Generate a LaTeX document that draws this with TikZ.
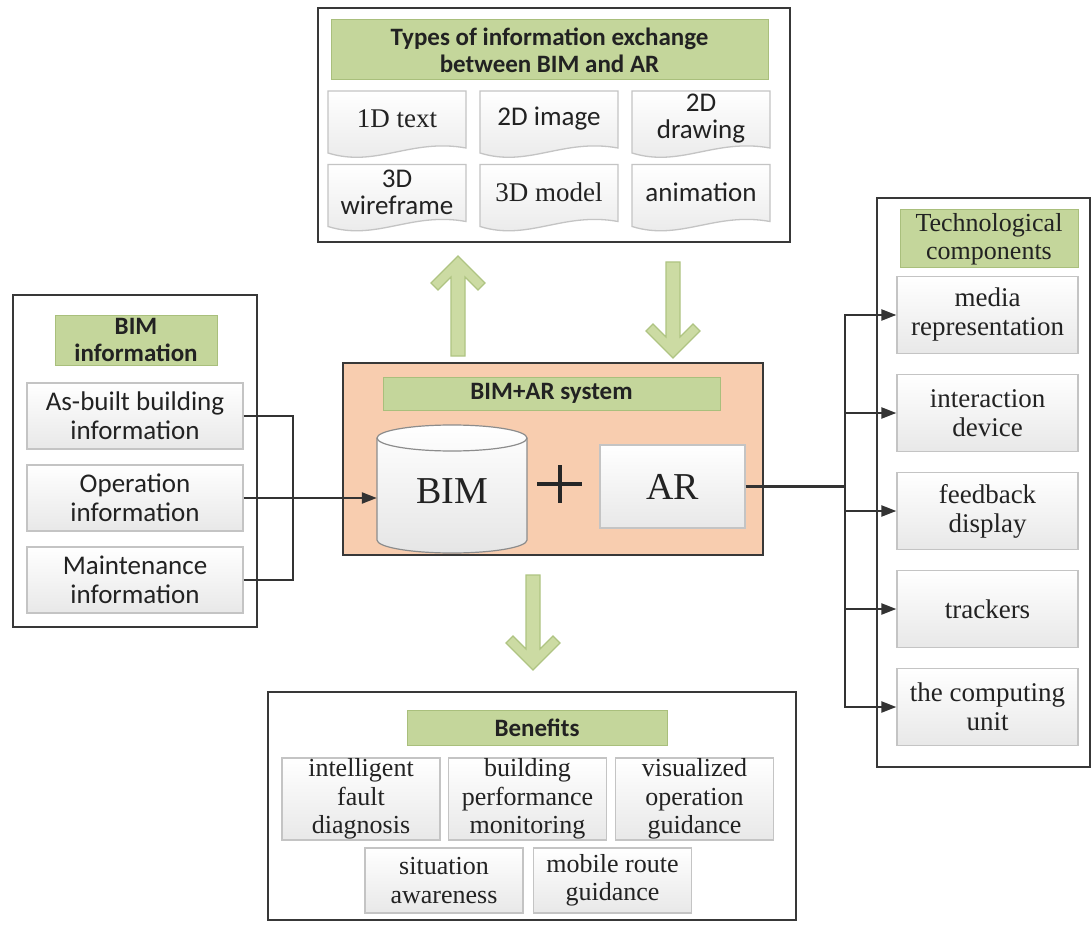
\documentclass[tikz,border=0pt]{standalone}
\usepackage{fontspec}
\setmainfont{Liberation Serif}
\newfontfamily\hsans{Carlito}
\newfontfamily\tserif{Liberation Serif}
\usetikzlibrary{calc,arrows.meta}
\definecolor{hgreen}{HTML}{C4D69B}
\definecolor{hgreenb}{HTML}{A9BF7C}
\definecolor{agreen}{HTML}{CCDBA3}
\definecolor{agreenb}{HTML}{AFC482}
\definecolor{peach}{HTML}{F8CDAF}
\definecolor{outerc}{HTML}{383838}
\definecolor{itemb}{HTML}{C4C4C4}
\definecolor{txt}{HTML}{222222}
\tikzset{
  wh/.style 2 args={minimum width=#1, minimum height=#2},
  outerbox/.style={draw=outerc, line width=2.8, inner sep=0, outer sep=0},
  hdr/.style={fill=hgreen, draw=hgreenb, line width=1, inner sep=0, align=center, text=txt, font=\hsans\bfseries\fontsize{25}{27}\selectfont},
  itembox/.style={draw=itemb, line width=1.3, top color=white, bottom color=black!9, inner sep=0, align=center, text=txt},
  sitem/.style={itembox, font=\hsans\fontsize{27}{29}\selectfont},
  ritem/.style={itembox, font=\tserif\fontsize{27}{29}\selectfont},
  bitem/.style={itembox, font=\tserif\fontsize{26}{28.5}\selectfont},
  docnode/.style={inner sep=0, align=center, text=txt},
  docbody/.style={draw=itemb, line width=1.3, top color=white, bottom color=black!9},
  conn/.style={draw=black!80, line width=2.3},
  arr/.style={conn, -{Triangle[length=15pt,width=11pt]}},
  bigarrow/.style={fill=agreen, draw=agreenb, line width=1.2, line join=miter}
}
\newcommand\docitem[5]{%
  \path[docbody] (#2-69,#3-27.5) -- (#2+69,#3-27.5) -- (#2+69,#3+29.5)
    .. controls (#2+13.8,#3+19.5) and (#2-20.7,#3+49.5) .. (#2-69,#3+34.5) -- cycle;
  \node[docnode, wh={138}{55}, font=#4] (#1) at (#2,#3) {#5};
}
\newcommand\arrowup[3]{% cx, apex y, bottom y
  \path[bigarrow] (#1,#2) -- (#1+27,#2+27) -- (#1+20,#2+34) -- (#1+7,#2+21) -- (#1+7,#3)
    -- (#1-7,#3) -- (#1-7,#2+21) -- (#1-20,#2+34) -- (#1-27,#2+27) -- cycle;
}
\newcommand\arrowdown[3]{% cx, top y, apex y
  \path[bigarrow] (#1,#3) -- (#1+27,#3-27) -- (#1+20,#3-34) -- (#1+7,#3-21) -- (#1+7,#2)
    -- (#1-7,#2) -- (#1-7,#3-21) -- (#1-20,#3-34) -- (#1-27,#3-27) -- cycle;
}
\begin{document}
\begin{tikzpicture}[x=1pt,y=-1pt]
\useasboundingbox (0,0) rectangle (1092,925);
\fill[white] (0,0) rectangle (1092,925);

% ---------- top box
\node[outerbox, wh={472}{234}] (tbox) at (554,125) {};
\node[hdr, wh={437}{60}] (thdr) at (549.5,50) {Types of information exchange\\between BIM and AR};
\docitem{d1}{397}{118.5}{\tserif\fontsize{27}{29}\selectfont}{1D text}
\docitem{d2}{549}{118.5}{\hsans\fontsize{27}{27}\selectfont}{2D image}
\docitem{d3}{701}{118.5}{\hsans\fontsize{27}{27}\selectfont}{2D\\drawing}
\docitem{d4}{397}{192}{\hsans\fontsize{27}{27}\selectfont}{3D\\wireframe}
\docitem{d5}{549}{192}{\tserif\fontsize{27}{29}\selectfont}{3D model}
\docitem{d6}{701}{192}{\hsans\fontsize{27}{27}\selectfont}{animation}

% ---------- left box
\node[outerbox, wh={244}{332}] (lbox) at (135,461) {};
\node[hdr, wh={162}{50}] (lhdr) at (136,340) {BIM\\information};
\node[sitem, wh={216}{66}] (asb) at (135,416) {As-built building\\information};
\node[sitem, wh={216}{66}] (ope) at (135,498) {Operation\\information};
\node[sitem, wh={216}{66}] (mai) at (135,580) {Maintenance\\information};

% ---------- centre box
\node[outerbox, fill=peach, wh={420}{192}] (cbox) at (553,459) {};
\node[hdr, wh={337}{33}] (chdr) at (551.5,393.5) {BIM+AR system};
\path[draw=black!45, line width=1.2, top color=white, bottom color=black!10]
  (377,438) -- (377,540) arc[start angle=180, end angle=0, x radius=75, y radius=13]
  -- (527,438) arc[start angle=0, end angle=-180, x radius=75, y radius=13] -- cycle;
\draw[black!45, line width=1.2] (377,438) arc[start angle=180, end angle=0, x radius=75, y radius=13];
\node[inner sep=0, wh={150}{102}, text=txt, font=\tserif\fontsize{38}{40}\selectfont] (bim) at (452,491) {BIM};
\draw[line width=4, black!85] (537,484) -- (582,484) (559.5,465) -- (559.5,503);
\node[itembox, wh={145}{83}, font=\tserif\fontsize{38}{40}\selectfont] (ar) at (672.5,486.5) {AR};

% ---------- right box
\node[outerbox, wh={213}{569}] (rbox) at (983.5,482.5) {};
\node[hdr, font=\tserif\fontsize{26}{28}\selectfont, wh={178}{58}] (rhdr) at (989,239) {Technological\\components};
\node[ritem, wh={181}{77}] (media) at (987.5,315) {media\\representation};
\node[ritem, wh={181}{77}] (inter) at (987.5,413) {interaction\\device};
\node[ritem, wh={181}{77}] (feed) at (987.5,511) {feedback\\display};
\node[ritem, wh={181}{77}] (track) at (987.5,609) {trackers};
\node[ritem, wh={181}{77}] (comp) at (987.5,707) {the computing\\unit};

% ---------- bottom box
\node[outerbox, wh={528}{228}] (bbox) at (532,806) {};
\node[hdr, wh={260}{35}] (bhdr) at (537,727.5) {Benefits};
\node[bitem, wh={158}{82}] (b1) at (361,799) {intelligent\\fault\\diagnosis};
\node[bitem, wh={158}{82}] (b2) at (527.5,799) {building\\performance\\monitoring};
\node[bitem, wh={158}{82}] (b3) at (694.5,799) {visualized\\operation\\guidance};
\node[bitem, wh={158}{65}] (b4) at (444,880.5) {situation\\awareness};
\node[bitem, wh={158}{65}] (b5) at (612.5,880.5) {mobile route\\guidance};

% ---------- connectors
\coordinate (lj) at (293,498);
\draw[conn] (asb.east) -| (lj);
\draw[conn] (mai.east) -| (lj);
\draw[arr] (ope.east) -- (ope.east -| bim.west);

\coordinate (rj) at (845,486.5);
\draw[conn] (ar.east) -- (rj);
\draw[arr] (rj) |- (media.west);
\draw[arr] (rj) |- (inter.west);
\draw[arr] (rj) |- (feed.west);
\draw[arr] (rj) |- (track.west);
\draw[arr] (rj) |- (comp.west);

% ---------- big green arrows
\arrowup{458}{256}{356}
\arrowdown{673}{262}{358}
\arrowdown{533}{575}{670}
\end{tikzpicture}
\end{document}
